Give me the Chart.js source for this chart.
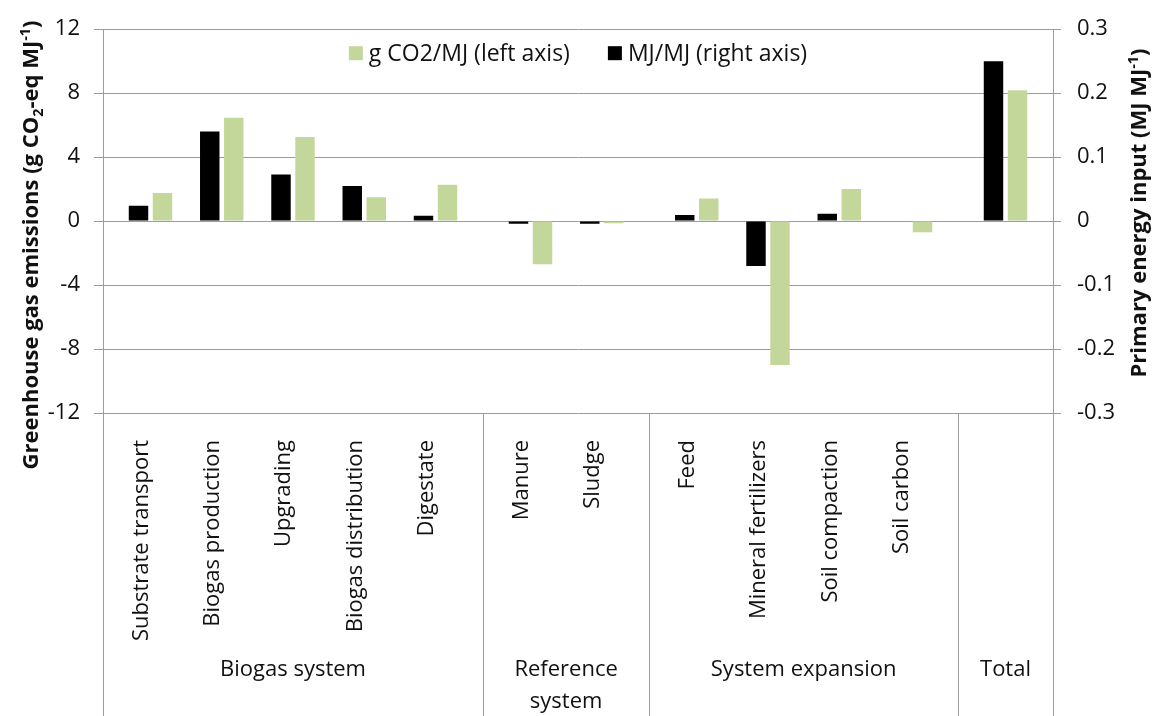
<!DOCTYPE html>
<html>
<head>
<meta charset="utf-8">
<script src="https://cdn.jsdelivr.net/npm/chart.js@4.4.0/dist/chart.umd.min.js"></script>
<style>
    body { margin: 0; background: #fff; }
    .EmissionsChartWrapper { width: 1156px; height: 716px; }
</style>
</head>
<body>
<div class="EmissionsChartWrapper"><canvas id="EmissionsPlot"></canvas></div>
<script>
// the Total bars have no label of their own, only the group label
const categories = ['Substrate transport', 'Biogas production', 'Upgrading', 'Biogas distribution', 'Digestate',
    'Manure', 'Sludge', 'Feed', 'Mineral fertilizers', 'Soil compaction', 'Soil carbon', '']
const groupLabels = ['Biogas system', 'Reference\nsystem', 'System expansion', 'Total']
const groupSizes = [5, 2, 4, 1]

// g CO2-eq / MJ, left axis
const co2Values = [1.75, 6.46, 5.26, 1.49, 2.27, -2.7, -0.13, 1.42, -9.0, 2.0, -0.7, 8.19]
// MJ / MJ, right axis
const energyValues = [0.024, 0.14, 0.073, 0.055, 0.0085, -0.004, -0.004, 0.0095, -0.07, 0.0115, 0, 0.25]

const leftRange = [-12, 12]
const leftStep = 4
const rightRange = [-0.3, 0.3]
const rightStep = 0.1

const legendLabels = ['g CO2/MJ (left axis)', 'MJ/MJ (right axis)']
const leftTitleParts = [{text: 'Greenhouse gas emissions (g CO'}, {text: '2', sub: true}, {text: '-eq MJ'}, {text: '-1', sup: true}, {text: ')'}]
const rightTitleParts = [{text: 'Primary energy input (MJ MJ'}, {text: '-1', sup: true}, {text: ')'}]

const fontFamily = "'Open Sans', 'DejaVu Sans', sans-serif"
const gridColor = '#9c9c9c'
const textColor = '#111'
const groupGap = 1 / 3
const edgePad = 2 / 3

const groupOf = groupSizes.flatMap((n, g) => Array(n).fill(g))
const xPositions = categories.map((c, i) => i + groupOf[i] * groupGap)

const drawRuns = (ctx, parts, cx, cy, size) => {
    const runs = parts.map(p => {
        const s = (p.sub || p.sup) ? size * 0.65 : size
        ctx.font = `bold ${s}px ${fontFamily}`
        return {...p, s, w: ctx.measureText(p.text).width}
    })
    const total = runs.reduce((a, r) => a + r.w, 0)
    ctx.save()
    ctx.translate(cx, cy)
    ctx.rotate(-Math.PI / 2)
    ctx.textBaseline = 'alphabetic'
    ctx.textAlign = 'left'
    ctx.fillStyle = textColor
    let x = -total / 2
    runs.forEach(r => {
        ctx.font = `bold ${r.s}px ${fontFamily}`
        const dy = r.sub ? size * 0.22 : r.sup ? -size * 0.36 : 0
        ctx.fillText(r.text, x, size * 0.36 + dy)
        x += r.w
    })
    ctx.restore()
}

const groupsPlugin = {
    id: 'groups',
    afterDraw(chart) {
        const {ctx, chartArea: area} = chart
        const xScale = chart.scales.x
        ctx.save()

        // separators under the axis
        const bounds = [area.left, area.right]
        let first = 0
        groupSizes.forEach((n, g) => {
            const last = first + n - 1
            if (g < groupSizes.length - 1) {
                bounds.push(xScale.getPixelForValue((xPositions[last] + xPositions[last + 1]) / 2))
            }
            ctx.font = `22px ${fontFamily}`
            ctx.fillStyle = textColor
            ctx.textAlign = 'center'
            ctx.textBaseline = 'middle'
            const cx = xScale.getPixelForValue((xPositions[first] + xPositions[last]) / 2)
            groupLabels[g].split('\n').forEach((line, k) => {
                ctx.fillText(line, cx, area.bottom + 257 + k * 32)
            })
            first = last + 1
        })
        ctx.strokeStyle = gridColor
        ctx.lineWidth = 1
        bounds.forEach(b => {
            const px = Math.round(b) + 0.5
            ctx.beginPath()
            ctx.moveTo(px, area.bottom)
            ctx.lineTo(px, chart.height)
            ctx.stroke()
        })

        // legend, green first
        const items = chart.data.datasets.slice().reverse()
        ctx.font = `23px ${fontFamily}`
        const box = 14, textGap = 6, itemGap = 38
        const widths = items.map(d => box + textGap + ctx.measureText(d.label).width)
        const total = widths.reduce((a, b) => a + b, 0) + itemGap * (items.length - 1)
        let lx = (area.left + area.right) / 2 - total / 2
        const ly = area.top + 24
        ctx.textAlign = 'left'
        ctx.textBaseline = 'middle'
        items.forEach((d, i) => {
            ctx.fillStyle = d.backgroundColor
            ctx.fillRect(lx, ly - box / 2, box, box)
            ctx.fillStyle = textColor
            ctx.fillText(d.label, lx + box + textGap, ly + 1)
            lx += widths[i] + itemGap
        })

        drawRuns(ctx, leftTitleParts, 30, 245, 22)
        drawRuns(ctx, rightTitleParts, 1138, 213, 22)
        ctx.restore()
    }
}

const ctx = document.getElementById('EmissionsPlot')
new Chart(ctx, {
    type: 'bar',
    data: {
        datasets: [{
            label: legendLabels[1],
            data: energyValues.map((v, i) => ({x: xPositions[i], y: v})),
            yAxisID: 'yRight',
            backgroundColor: '#000000',
            borderWidth: 0,
            categoryPercentage: 0.674,
            barPercentage: 0.81,
        }, {
            label: legendLabels[0],
            data: co2Values.map((v, i) => ({x: xPositions[i], y: v})),
            yAxisID: 'yLeft',
            backgroundColor: '#c4d79b',
            borderWidth: 0,
            categoryPercentage: 0.674,
            barPercentage: 0.81,
        }]
    },
    options: {
        responsive: true,
        maintainAspectRatio: false,
        animation: false,
        layout: {padding: {top: 16, left: 0, right: 0, bottom: 0}},
        plugins: {
            legend: {display: false},
            tooltip: {enabled: false},
        },
        scales: {
            x: {
                type: 'linear',
                position: 'bottom',
                min: xPositions[0] - edgePad,
                max: xPositions[xPositions.length - 1] + edgePad,
                offset: false,
                grid: {display: false, offset: false},
                border: {display: false},
                afterBuildTicks: scale => {
                    scale.ticks = xPositions.map(v => ({value: v}))
                },
                afterFit: scale => {
                    scale.height = 303
                },
                ticks: {
                    autoSkip: false,
                    maxRotation: 90,
                    minRotation: 90,
                    padding: 19,
                    labelOffset: -9,
                    color: textColor,
                    font: {family: fontFamily, size: 22},
                    callback: (value, index) => categories[index],
                },
            },
            yLeft: {
                position: 'left',
                min: leftRange[0],
                max: leftRange[1],
                ticks: {
                    stepSize: leftStep,
                    padding: 14,
                    color: textColor,
                    font: {family: fontFamily, size: 22},
                },
                grid: {color: gridColor, tickLength: 9, lineWidth: 1},
                border: {color: gridColor},
                afterFit: scale => {
                    scale.width = 103
                },
            },
            yRight: {
                position: 'right',
                min: rightRange[0],
                max: rightRange[1],
                ticks: {
                    stepSize: rightStep,
                    padding: 16,
                    color: textColor,
                    font: {family: fontFamily, size: 22},
                    callback: v => `${Math.round(v * 10) / 10}`,
                },
                grid: {drawOnChartArea: false, color: gridColor, tickLength: 8},
                border: {color: gridColor},
                afterFit: scale => {
                    scale.width = 103
                },
            },
        },
    },
    plugins: [groupsPlugin],
})
</script>
</body>
</html>
